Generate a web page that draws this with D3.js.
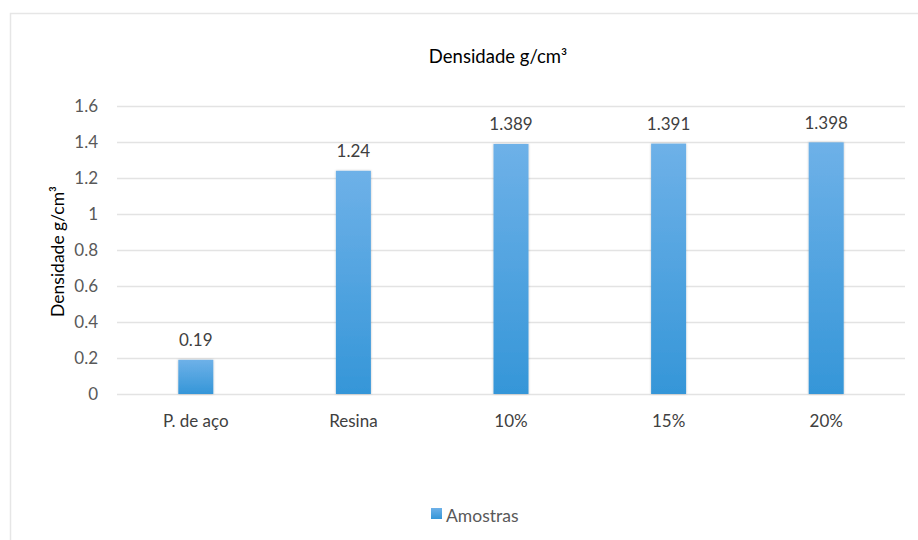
<!DOCTYPE html>
<html>
<head>
<meta charset="utf-8">
<script src="https://cdn.jsdelivr.net/npm/d3@7"></script>
<style>
  html, body { margin: 0; padding: 0; background: #fff; }
  svg { display: block; font-family: Lato, "Open Sans", sans-serif; }
</style>
</head>
<body>
<svg id="chart" width="918" height="540"></svg>
<script>
// Sample categories and measured densities (g/cm³)
const categories = ["P. de aço", "Resina", "10%", "15%", "20%"];
const densities = [0.19, 1.24, 1.389, 1.391, 1.398];
const valueLabels = ["0.19", "1.24", "1.389", "1.391", "1.398"];
const yTicks = [0, 0.2, 0.4, 0.6, 0.8, 1, 1.2, 1.4, 1.6];
const yTickLabels = ["0", "0.2", "0.4", "0.6", "0.8", "1", "1.2", "1.4", "1.6"];
const seriesName = "Amostras";
const chartTitle = "Densidade g/cm³";
const axisTitle = "Densidade g/cm³";

const svg = d3.select("#chart");

// outer chart frame (open on right and bottom)
svg.append("rect")
  .attr("x", 10.5).attr("y", 13.5)
  .attr("width", 930).attr("height", 560)
  .attr("fill", "none").attr("stroke", "#e6e6e6").attr("stroke-width", 1.5);

const plot = { left: 117, right: 905, top: 106, bottom: 394 };

const x = d3.scaleBand()
  .domain(categories)
  .range([plot.left, plot.right])
  .paddingInner(0.778)
  .paddingOuter(0.389);

const y = d3.scaleLinear()
  .domain([0, 1.6])
  .range([plot.bottom, plot.top]);

const defs = svg.append("defs");
const grad = defs.append("linearGradient")
  .attr("id", "barGrad").attr("x1", 0).attr("y1", 0).attr("x2", 0).attr("y2", 1);
grad.append("stop").attr("offset", "0%").attr("stop-color", "#6eb1e8");
grad.append("stop").attr("offset", "100%").attr("stop-color", "#3596d8");

const shadow = defs.append("filter").attr("id", "barShadow")
  .attr("x", "-20%").attr("y", "-5%").attr("width", "140%").attr("height", "110%");
shadow.append("feDropShadow")
  .attr("dx", 0).attr("dy", 0).attr("stdDeviation", 1.2)
  .attr("flood-color", "#000").attr("flood-opacity", 0.25);

// gridlines
svg.append("g")
  .selectAll("line")
  .data(yTicks)
  .join("line")
  .attr("x1", plot.left).attr("x2", plot.right)
  .attr("y1", d => Math.round(y(d)) + 0.5).attr("y2", d => Math.round(y(d)) + 0.5)
  .attr("stroke", "#e3e3e3").attr("stroke-width", 1.3);

// y axis labels
const yAxis = d3.axisLeft(y)
  .tickValues(yTicks)
  .tickFormat((d, i) => yTickLabels[i])
  .tickSize(0).tickPadding(19);
const yg = svg.append("g").attr("transform", `translate(${plot.left},0)`).call(yAxis);
yg.select(".domain").remove();
yg.selectAll("text").attr("fill", "#595959").attr("font-size", 17).attr("font-family", "Lato, sans-serif");

// x axis labels
const xAxis = d3.axisBottom(x).tickSize(0).tickPadding(21);
const xg = svg.append("g").attr("transform", `translate(0,${plot.bottom})`).call(xAxis);
xg.select(".domain").remove();
xg.selectAll("text").attr("fill", "#404040").attr("font-size", 17).attr("font-family", "Lato, sans-serif");

// bars
svg.append("g")
  .selectAll("rect")
  .data(densities)
  .join("rect")
  .attr("x", (d, i) => x(categories[i]))
  .attr("width", x.bandwidth())
  .attr("y", d => y(d))
  .attr("height", d => y(0) - y(d))
  .attr("fill", "url(#barGrad)")
  .attr("filter", "url(#barShadow)");

// value labels
svg.append("g")
  .selectAll("text")
  .data(densities)
  .join("text")
  .attr("x", (d, i) => x(categories[i]) + x.bandwidth() / 2)
  .attr("y", d => y(d) - 13.5)
  .attr("text-anchor", "middle")
  .attr("fill", "#404040")
  .attr("font-size", 17)
  .text((d, i) => valueLabels[i]);

// chart title
svg.append("text")
  .attr("x", 498).attr("y", 63)
  .attr("text-anchor", "middle")
  .attr("fill", "#000")
  .attr("font-size", 18.5)
  .text(chartTitle);

// y axis title
svg.append("text")
  .attr("transform", `translate(64,251.5) rotate(-90)`)
  .attr("text-anchor", "middle")
  .attr("fill", "#000")
  .attr("font-size", 17.5)
  .text(axisTitle);

// legend
const legend = svg.append("g").attr("transform", "translate(431,508)");
legend.append("rect")
  .attr("width", 11).attr("height", 11)
  .attr("fill", "url(#barGrad)");
legend.append("text")
  .attr("x", 15).attr("y", 13.5)
  .attr("fill", "#595959")
  .attr("font-size", 17.5)
  .text(seriesName);
</script>
</body>
</html>
